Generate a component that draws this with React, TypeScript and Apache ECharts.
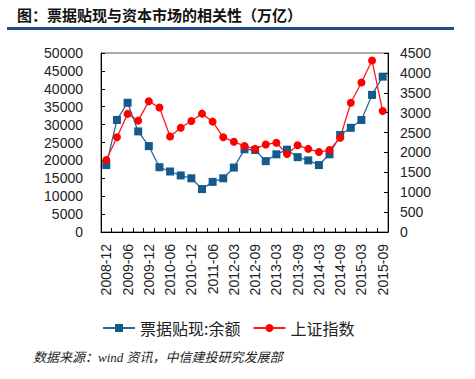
import React, { useEffect, useRef } from "react";
import * as echarts from "echarts";

const categories = [
  "2008-12", "2009-03", "2009-06", "2009-09", "2009-12", "2010-03", "2010-06",
  "2010-09", "2010-12", "2011-03", "2011-06", "2011-09", "2012-03", "2012-06",
  "2012-09", "2012-12", "2013-03", "2013-06", "2013-09", "2013-12", "2014-03",
  "2014-06", "2014-09", "2014-12", "2015-03", "2015-06", "2015-09",
];

const discountBalance = [
  18700, 31300, 36100, 28100, 24000, 18100, 16900, 15800, 15000, 12000, 14000,
  15000, 18000, 23100, 22900, 19800, 21700, 23000, 20900, 20000, 18700, 21700,
  27100, 29100, 31300, 38300, 43400,
];

const shIndex = [
  1810, 2380, 2970, 2800, 3285, 3130, 2400, 2620, 2790, 2975, 2775, 2380, 2270,
  2160, 2090, 2200, 2245, 1960, 2180, 2090, 2010, 2060, 2370, 3250, 3760, 4310,
  3040,
];

const leftTicks = { min: 0, max: 50000, interval: 5000 };
const rightTicks = { min: 0, max: 4500, interval: 500 };

const seriesNames = ["票据贴现:余额", "上证指数"];
const titleText = "图：票据贴现与资本市场的相关性（万亿）";
const sourceText = "数据来源：wind 资讯，中信建投研究发展部";

export default function App() {
  const ref = useRef<HTMLDivElement>(null);
  useEffect(() => {
    document.body.style.margin = "0";
    const chart = echarts.init(ref.current!, null, { renderer: "svg" });
    const axisCommon = {
      axisLine: { show: true, lineStyle: { color: "#000", width: 1 } },
      axisTick: { show: true, inside: true, length: 4, lineStyle: { color: "#000" } },
      splitLine: { show: false },
      axisLabel: {
        fontSize: 14,
        color: "#222",
        fontFamily: "Liberation Sans, Arial, sans-serif",
        formatter: (v: number) => String(v),
      },
    };
    chart.setOption({
      animation: false,
      backgroundColor: "#fff",
      textStyle: { fontFamily: "Liberation Sans, Arial, sans-serif" },
      grid: {
        left: 101,
        right: 87,
        top: 53,
        bottom: 147,
        show: true,
        borderColor: "#555",
        borderWidth: 1,
        backgroundColor: "transparent",
      },
      graphic: [
        {
          type: "text",
          left: 17,
          top: 7,
          style: {
            text: titleText,
            fontSize: 15,
            fontWeight: "bold",
            fill: "#111",
            fontFamily: "Noto Sans CJK SC, sans-serif",
          },
        },
        {
          type: "rect",
          shape: { x: 7, y: 27, width: 447, height: 3 },
          style: { fill: "#1f4e87" },
        },
        {
          type: "text",
          left: 33,
          top: 351,
          style: {
            text: sourceText,
            fontSize: 13,
            fontStyle: "italic",
            fill: "#222",
            fontFamily: "Liberation Serif, Noto Sans CJK SC, serif",
          },
        },
      ],
      legend: {
        left: 97,
        top: 315,
        itemWidth: 32,
        itemHeight: 10,
        itemGap: 12,
        textStyle: { fontSize: 16, color: "#222", fontFamily: "Noto Sans CJK SC, sans-serif" },
        data: seriesNames,
      },
      xAxis: {
        type: "category",
        data: categories,
        boundaryGap: true,
        axisLine: { show: true, lineStyle: { color: "#000" } },
        axisTick: { show: true, inside: true, length: 4, interval: 0, lineStyle: { color: "#000" } },
        axisLabel: {
          interval: 1,
          rotate: 90,
          margin: 12,
          fontSize: 14,
          color: "#222",
          fontFamily: "Liberation Sans, Arial, sans-serif",
        },
        splitLine: { show: false },
      },
      yAxis: [
        { type: "value", position: "left", ...leftTicks, ...axisCommon, axisLabel: { ...axisCommon.axisLabel, margin: 18 } },
        { type: "value", position: "right", ...rightTicks, ...axisCommon, axisLabel: { ...axisCommon.axisLabel, margin: 12 } },
      ],
      series: [
        {
          name: seriesNames[0],
          type: "line",
          yAxisIndex: 0,
          data: discountBalance,
          symbol: "rect",
          symbolSize: 8,
          showAllSymbol: true,
          itemStyle: { color: "#145a8a" },
          lineStyle: { color: "#2a6a9a", width: 1.3 },
        },
        {
          name: seriesNames[1],
          type: "line",
          yAxisIndex: 1,
          data: shIndex,
          symbol: "circle",
          symbolSize: 8,
          showAllSymbol: true,
          itemStyle: { color: "#ff0000" },
          lineStyle: { color: "#ff1a1a", width: 1.3 },
        },
      ],
    });
    return () => chart.dispose();
  }, []);
  return <div ref={ref} style={{ width: 475, height: 379 }} />;
}
